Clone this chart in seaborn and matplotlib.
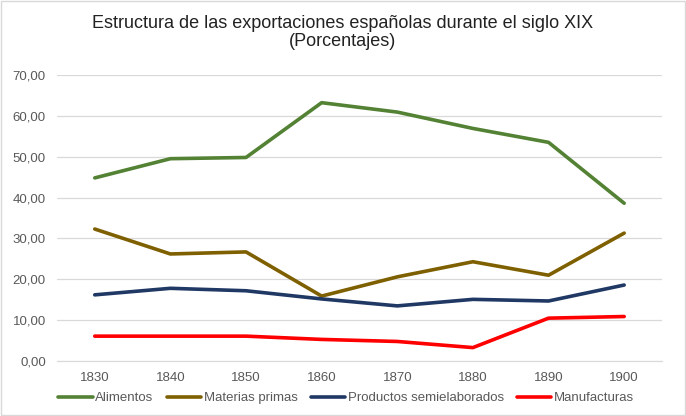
import matplotlib
matplotlib.use("Agg")
import matplotlib.pyplot as plt
import pandas as pd
import seaborn as sns
from matplotlib.ticker import FuncFormatter
from matplotlib.patches import Rectangle

#%% data
years = [1830, 1840, 1850, 1860, 1870, 1880, 1890, 1900]
alimentos = [44.8, 49.5, 49.8, 63.2, 60.9, 56.9, 53.5, 38.6]
materias_primas = [32.3, 26.2, 26.7, 15.9, 20.6, 24.3, 21.0, 31.3]
semielaborados = [16.2, 17.8, 17.2, 15.2, 13.5, 15.1, 14.7, 18.6]
manufacturas = [6.1, 6.1, 6.1, 5.3, 4.8, 3.3, 10.5, 10.9]

series_names = ['Alimentos', 'Materias primas', 'Productos semielaborados', 'Manufacturas']
colors = ['#548235', '#7f6000', '#203864', '#ff0000']

df = pd.DataFrame({'year': years,
                   series_names[0]: alimentos,
                   series_names[1]: materias_primas,
                   series_names[2]: semielaborados,
                   series_names[3]: manufacturas})
long = df.melt(id_vars='year', var_name='serie', value_name='pct')

#%% graph
sns.set_style('white')
plt.rcParams['font.family'] = ['Liberation Sans', 'DejaVu Sans']

fig = plt.figure(figsize=(6.86, 4.16), dpi=100)
ax = fig.add_axes([0.083, 0.132, 0.882, 0.688])

sns.lineplot(data=long, x='year', y='pct', hue='serie', hue_order=series_names,
             palette=colors, linewidth=2.6, ax=ax)

ax.set_xlim(1825, 1905)
ax.set_ylim(0, 70)
ax.set_xticks(years)
ax.set_yticks(range(0, 71, 10))
ax.yaxis.set_major_formatter(FuncFormatter(lambda v, p: f'{v:.2f}'.replace('.', ',')))
ax.grid(axis='y', color='#d9d9d9', linewidth=0.9)
ax.set_axisbelow(True)
for s in ['top', 'right', 'left']:
    ax.spines[s].set_visible(False)
ax.spines['bottom'].set_color('#d9d9d9')
ax.tick_params(axis='both', length=0, labelsize=9.5, colors='#595959', pad=8)
ax.set_xlabel('')
ax.set_ylabel('')

fig.suptitle('Estructura de las exportaciones españolas durante el siglo XIX\n(Porcentajes)',
             y=0.965, fontsize=13, color='#222222', linespacing=1.1)

ax.legend(loc='center', bbox_to_anchor=(0.478, -0.13), ncol=4, frameon=False,
          fontsize=9.5, handlelength=2.6, handletextpad=0.2, columnspacing=1.0,
          labelcolor='#595959')

# light chart border
fig.patches.append(Rectangle((0.002, 0.002), 0.996, 0.996, transform=fig.transFigure,
                             fill=False, edgecolor='#d9d9d9', linewidth=1))

plt.savefig('out.png', dpi=100)
